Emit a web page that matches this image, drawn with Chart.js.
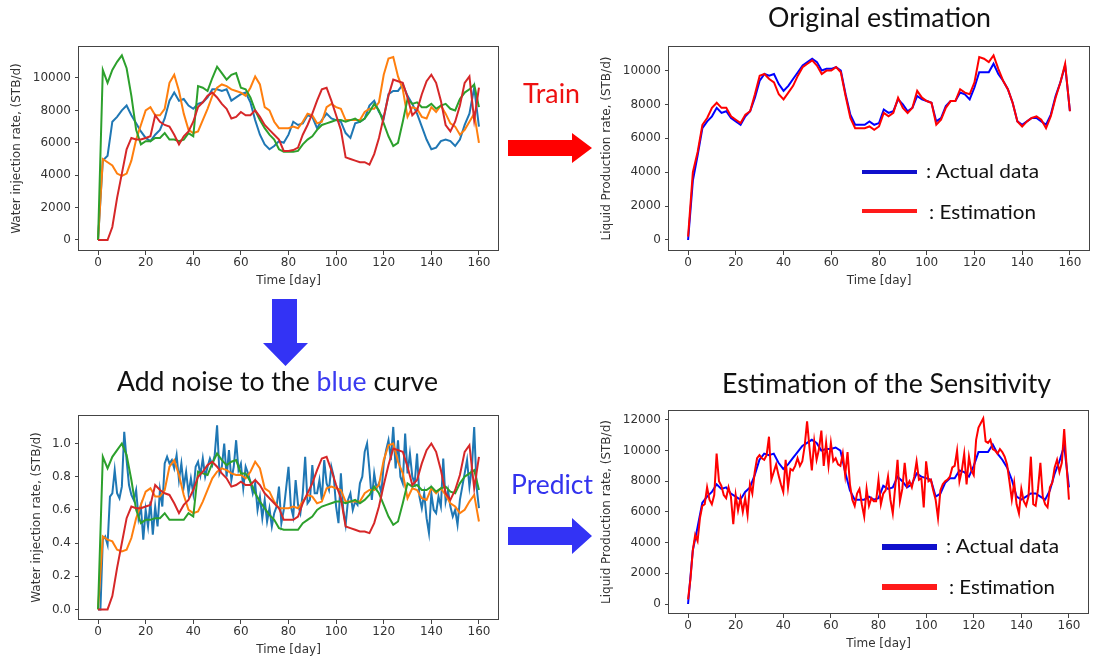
<!DOCTYPE html>
<html>
<head>
<meta charset="utf-8">
<script src="https://cdn.jsdelivr.net/npm/chart.js@4.4.1/dist/chart.umd.min.js"></script>
<style>
  html, body { margin: 0; padding: 0; background: #fff; width: 1094px; height: 662px; overflow: hidden; }
  canvas { position: absolute; }
  .lbl { position: absolute; white-space: nowrap; font-family: Lato, "Open Sans", sans-serif; line-height: 1; }
  .bar { position: absolute; }
  svg { position: absolute; left: 0; top: 0; }
</style>
</head>
<body>
<canvas id="cInjection" width="510" height="270" style="left:0px;top:30px"></canvas>
<canvas id="cTrain" width="504" height="270" style="left:590px;top:30px"></canvas>
<canvas id="cNoisy" width="510" height="270" style="left:0px;top:399px"></canvas>
<canvas id="cPredict" width="504" height="269" style="left:590px;top:394px"></canvas>

<svg width="1094" height="662">
  <polygon points="508,140 572,140 572,133 592,148 572,163 572,156 508,156" fill="#ff0000"/>
  <polygon points="272,299 297,299 297,343 308,343 285.5,366 263,343 272,343" fill="#3333f5"/>
  <polygon points="508,527 572,527 572,518 592,536 572,554 572,545 508,545" fill="#3333f5"/>
</svg>

<div class="bar" style="left:862px;top:169.5px;width:55px;height:4.5px;background:#1010cc"></div>
<div class="bar" style="left:862px;top:208.8px;width:55px;height:4.5px;background:#ff1a1a"></div>
<div class="bar" style="left:882px;top:544px;width:55px;height:5.5px;background:#1010cc"></div>
<div class="bar" style="left:882px;top:584px;width:55px;height:5.5px;background:#ff1a1a"></div>

<div class="lbl" id="tTrainTitle" style="color:#111">Original estimation</div>
<div class="lbl" id="tTrain" style="color:#ee1111">Train</div>
<div class="lbl" id="tNoise" style="color:#111">Add noise to the <span style="color:#3a3af0">blue</span> curve</div>
<div class="lbl" id="tSens" style="color:#111">Estimation of the Sensitivity</div>
<div class="lbl" id="tPredict" style="color:#3333ee">Predict</div>
<div class="lbl" id="lgA1" style="color:#111">: Actual data</div>
<div class="lbl" id="lgE1" style="color:#111">: Estimation</div>
<div class="lbl" id="lgA2" style="color:#111">: Actual data</div>
<div class="lbl" id="lgE2" style="color:#111">: Estimation</div>

<script>
// ---- x axis: simulation days ----
const daysEvery2 = Array.from({ length: 81 }, (_, i) => i * 2);   // 0, 2, ..., 160
const daysEvery1 = Array.from({ length: 161 }, (_, i) => i);      // 0, 1, ..., 160
const xTicks = [0, 20, 40, 60, 80, 100, 120, 140, 160];
const yTicksRate = [0, 2000, 4000, 6000, 8000, 10000];
const yTicksRate12 = [0, 2000, 4000, 6000, 8000, 10000, 12000];
const yTicksNorm = [0, 0.2, 0.4, 0.6, 0.8, 1.0];

// ---- water injection rates of the four injectors (STB/d), every 2 days ----
const injBlue = [
  0, 4900, 5200, 7300, 7600, 8000, 8300, 7700, 7200, 6700,
  6300, 6100, 6500, 6800, 7500, 8600, 9100, 8600, 8700, 8300,
  8100, 8400, 8500, 8800, 9300, 9300, 9200, 9300, 8600, 8800,
  9000, 9100, 8500, 7400, 6500, 5900, 5600, 5800, 6100, 6000,
  6500, 7300, 7100, 7200, 7700, 7600, 6900, 7400, 7800, 7500,
  7400, 7300, 6600, 6300, 7200, 7300, 7500, 8300, 8600, 7900,
  7500, 9000, 9200, 9200, 9600, 8900, 8400, 7800, 7000, 6200,
  5600, 5700, 6100, 6200, 6100, 5800, 6200, 7100, 7800, 9400,
  7000];
const injOrange = [
  0, 5000, 4800, 4600, 4100, 3950, 4100, 4900, 6200, 7100,
  8000, 8200, 7700, 7700, 8100, 9700, 10200, 9200, 7800, 6800,
  6600, 6700, 7400, 8100, 8900, 9400, 9600, 9500, 9300, 9200,
  9100, 8900, 9400, 10100, 9600, 8200, 8000, 7300, 6900, 6900,
  6900, 7000, 6900, 7300, 7800, 7700, 7200, 7300, 8200, 8400,
  8200, 8100, 7400, 7400, 7400, 7400, 7900, 8100, 8100, 8500,
  10200, 11200, 11300, 10100, 9300, 7600, 8200, 8100, 7600, 7500,
  8200, 7900, 8300, 7800, 7200, 7000, 6500, 6800, 7300, 7800,
  6000];
const injGreen = [
  0, 10500, 9700, 10500, 11000, 11400, 10600, 8900, 6800, 5900,
  6100, 6100, 6300, 6300, 6600, 6200, 6200, 6100, 6200, 6600,
  6400, 9500, 9400, 9200, 10000, 10700, 10300, 9900, 10200, 10300,
  9400, 9300, 8800, 8000, 7400, 6900, 6500, 6200, 5600, 5450,
  5450, 5450, 5500, 5900, 6200, 6400, 6800, 7100, 7200, 7300,
  7400, 7400, 7300, 7400, 7500, 7300, 7500, 7900, 8400, 8000,
  7200, 6400, 5800, 6000, 7300, 8700, 8400, 8500, 8200, 8200,
  8400, 8100, 8300, 8400, 8100, 8000, 8700, 9100, 9300, 9600,
  8200];
const injRed = [
  0, 0, 0, 800, 2600, 4100, 5600, 6300, 6200, 6200,
  6300, 6400, 7700, 7300, 7100, 7000, 6500, 5900, 6400, 6700,
  7300, 8200, 8500, 8900, 9100, 8800, 8400, 8100, 7500, 7600,
  7900, 7700, 7700, 8000, 7600, 7100, 6800, 6500, 6200, 5500,
  5500, 5550, 5700, 6500, 7100, 7800, 8600, 9300, 9400, 8600,
  7700, 6800, 5100, 5000, 4900, 4800, 4800, 4650, 5300, 6300,
  7600, 8900, 9900, 9800, 9700, 8800, 7700, 8000, 9000, 9800,
  10200, 9700, 8600, 7100, 6700, 7300, 8300, 9700, 10100, 7400,
  9400];

// ---- scaled injection rates, blue injector with added noise (daily) ----
const normBlueNoisy = [
  0, 0, 0.42, 0.44, 0.39, 0.68, 0.70, 0.84, 0.70, 0.67,
  0.74, 1.07, 0.90, 0.75, 0.69, 0.66, 0.72, 0.55, 0.62, 0.42,
  0.60, 0.50, 0.65, 0.45, 0.62, 0.50, 0.72, 0.62, 0.88, 0.92,
  0.88, 0.90, 0.85, 0.93, 0.78, 0.88, 0.74, 0.83, 0.70, 0.79,
  0.70, 0.86, 0.89, 0.81, 0.91, 0.80, 0.86, 0.91, 0.87, 0.93,
  1.11, 0.82, 0.86, 1.00, 0.80, 0.96, 0.78, 0.86, 1.02, 0.84,
  0.88, 0.73, 0.86, 0.82, 0.77, 0.70, 0.76, 0.60, 0.68, 0.55,
  0.66, 0.53, 0.61, 0.50, 0.58, 0.62, 0.74, 0.52, 0.60, 0.73,
  0.86, 0.62, 0.56, 0.78, 0.63, 0.58, 0.70, 0.92, 0.64, 0.66,
  0.87, 0.70, 0.70, 0.78, 0.66, 0.90, 0.76, 0.72, 0.86, 0.80,
  0.62, 0.52, 0.82, 0.60, 0.51, 0.66, 0.70, 0.60, 0.65, 0.63,
  0.76, 0.80, 0.95, 1.00, 0.84, 0.66, 0.82, 0.73, 0.76, 0.70,
  0.88, 0.96, 1.02, 0.90, 1.10, 0.85, 1.02, 0.80, 0.76, 1.06,
  0.82, 0.94, 0.80, 0.76, 0.94, 0.68, 0.61, 0.70, 0.55, 0.46,
  0.70, 0.60, 0.58, 0.68, 0.62, 0.91, 0.65, 0.72, 0.62, 0.56,
  0.60, 0.51, 0.66, 0.74, 0.82, 0.90, 0.74, 0.85, 1.10, 0.74,
  0.61];
// ---- scaled injection rates of the other injectors, every 2 days ----
const normOrange = [
  0, 0.44, 0.42, 0.41, 0.36, 0.35, 0.36, 0.43, 0.55, 0.63,
  0.71, 0.73, 0.68, 0.68, 0.72, 0.86, 0.90, 0.81, 0.69, 0.60,
  0.58, 0.59, 0.65, 0.72, 0.79, 0.83, 0.85, 0.84, 0.82, 0.81,
  0.81, 0.79, 0.83, 0.89, 0.85, 0.73, 0.71, 0.65, 0.61, 0.61,
  0.61, 0.62, 0.61, 0.65, 0.69, 0.68, 0.64, 0.65, 0.73, 0.74,
  0.73, 0.72, 0.65, 0.65, 0.65, 0.65, 0.70, 0.72, 0.72, 0.75,
  0.90, 0.99, 1.00, 0.89, 0.82, 0.67, 0.73, 0.72, 0.67, 0.66,
  0.73, 0.70, 0.73, 0.69, 0.64, 0.62, 0.58, 0.60, 0.65, 0.69,
  0.53];
const normGreen = [
  0, 0.92, 0.85, 0.92, 0.96, 1.00, 0.93, 0.78, 0.60, 0.52,
  0.54, 0.54, 0.55, 0.55, 0.58, 0.54, 0.54, 0.54, 0.54, 0.58,
  0.56, 0.83, 0.82, 0.81, 0.88, 0.94, 0.90, 0.87, 0.89, 0.90,
  0.82, 0.82, 0.77, 0.70, 0.65, 0.61, 0.57, 0.54, 0.49, 0.48,
  0.48, 0.48, 0.48, 0.52, 0.54, 0.56, 0.60, 0.62, 0.63, 0.64,
  0.65, 0.65, 0.64, 0.65, 0.66, 0.64, 0.66, 0.69, 0.74, 0.70,
  0.63, 0.56, 0.51, 0.53, 0.64, 0.76, 0.74, 0.75, 0.72, 0.72,
  0.74, 0.71, 0.73, 0.74, 0.71, 0.70, 0.76, 0.80, 0.82, 0.84,
  0.72];
const normRed = [
  0, 0, 0, 0.08, 0.25, 0.40, 0.55, 0.62, 0.61, 0.61,
  0.62, 0.63, 0.75, 0.72, 0.70, 0.69, 0.64, 0.58, 0.63, 0.66,
  0.72, 0.80, 0.83, 0.87, 0.89, 0.86, 0.82, 0.79, 0.74, 0.75,
  0.77, 0.75, 0.75, 0.78, 0.75, 0.70, 0.67, 0.64, 0.61, 0.54,
  0.54, 0.54, 0.56, 0.64, 0.70, 0.76, 0.84, 0.91, 0.92, 0.84,
  0.75, 0.67, 0.50, 0.49, 0.48, 0.47, 0.47, 0.46, 0.52, 0.62,
  0.75, 0.87, 0.97, 0.96, 0.95, 0.86, 0.75, 0.78, 0.88, 0.96,
  1.00, 0.95, 0.84, 0.70, 0.66, 0.72, 0.81, 0.95, 0.99, 0.73,
  0.92];

// ---- liquid production (STB/d) ----
const prodActual = [
  0, 3500, 5000, 6600, 7000, 7300, 7800, 7500, 7600, 7200,
  7000, 6800, 7300, 7600, 8400, 9400, 9800, 9700, 9800, 9200,
  8800, 9100, 9500, 9900, 10300, 10500, 10700, 10500, 10000, 10100,
  10100, 10200, 10000, 8600, 7400, 6800, 6800, 6800, 7000, 6800,
  6900, 7700, 7500, 7600, 8300, 8000, 7600, 7800, 8500, 8300,
  8200, 8100, 7000, 7200, 7900, 8200, 8200, 8700, 8600, 8300,
  9000, 9900, 9900, 9900, 10400, 9800, 9400, 8900, 8100, 7000,
  6800, 7000, 7200, 7200, 7000, 6800, 7400, 8500, 9300, 10300,
  7600];
const prodEstTrain = [
  200, 4000, 5200, 6800, 7200, 7800, 8100, 7800, 7800, 7300,
  7100, 6900, 7400, 7600, 8600, 9700, 9800, 9500, 9300, 8600,
  8300, 8700, 9100, 9700, 10200, 10400, 10600, 10300, 9800, 10000,
  10000, 10200, 9900, 8500, 7200, 6600, 6600, 6600, 6700, 6500,
  6700, 7500, 7300, 7500, 8400, 7800, 7500, 7800, 8800, 8400,
  8200, 8100, 6800, 7100, 7800, 8200, 8200, 8900, 8700, 8600,
  9300, 10800, 10700, 10500, 10900, 10100, 9400, 8900, 8100, 7000,
  6700, 7000, 7200, 7300, 7100, 6600, 7300, 8400, 9300, 10400,
  7600];
const prodEstNoisy = [
  300, 1600, 3500, 4500, 4100, 5600, 6400, 6500, 7600, 6800,
  6500, 7100, 9800, 8000, 7700, 7100, 6900, 7600, 7000, 5200,
  7100, 6100, 6900, 6000, 6900, 5800, 7800, 7200, 8600, 9500,
  9700, 9500, 9400, 9700, 10900, 8100, 8600, 9100, 8400, 7800,
  7300, 9400, 7600, 8800, 8700, 9000, 9500, 9000, 9300, 10300,
  11900, 10200, 8700, 10600, 9400, 10100, 11300, 9000, 10500, 9000,
  10500, 9300, 9500, 9100, 9000, 9800, 8400, 9900, 7800, 6800,
  6400, 7200, 7500, 6500, 5700, 7500, 6400, 6900, 6700, 6700,
  8100, 6500, 7200, 7400, 8300, 6800, 5900, 7600, 9400, 6700,
  7500, 9200, 7700, 8000, 7600, 8300, 9300, 8100, 8200, 6300,
  9300, 8000, 8100, 7400, 6800, 5600, 7400, 7800, 8000, 8100,
  8300, 8900, 9000, 10000, 8000, 8700, 9800, 7800, 9600, 8700,
  8400, 10700, 11500, 11800, 12100, 10600, 10500, 10700, 10100, 10000,
  9800, 10100, 9900, 9600, 9100, 8000, 6800, 7900, 6500, 5900,
  7500, 6700, 6400, 7000, 9600, 6500, 6400, 7500, 9200, 7000,
  6500, 6300, 7600, 7900, 8900, 9400, 8600, 9200, 11400, 9000,
  6800];

const TAB = { blue: '#1f77b4', orange: '#ff7f0e', green: '#2ca02c', red: '#d62728' };
const AXIS = '#444';
const TEXT = '#333';
const tickFont = { family: 'DejaVu Sans', size: 12 };

function series(xs, ys, color, order, width) {
  return {
    data: ys.map((y, i) => ({ x: xs[i], y })),
    borderColor: color, backgroundColor: color,
    borderWidth: width || 2, pointRadius: 0, tension: 0, fill: false, order
  };
}

// closed rectangle around the plotting area
const frame = {
  id: 'frame',
  afterDraw(chart) {
    const { ctx, chartArea: a } = chart;
    ctx.save();
    ctx.strokeStyle = AXIS;
    ctx.lineWidth = 1;
    ctx.strokeRect(Math.round(a.left) - 0.5, Math.round(a.top) + 0.5,
                   Math.round(a.right - a.left) + 1, Math.round(a.bottom - a.top) - 1);
    ctx.restore();
  }
};

function makeChart(id, datasets, o) {
  return new Chart(document.getElementById(id), {
    type: 'line',
    data: { datasets },
    options: {
      responsive: false, animation: false, events: [],
      layout: { padding: { left: 0, top: o.padTop, right: o.padRight, bottom: 0 } },
      plugins: { legend: { display: false }, tooltip: { enabled: false } },
      scales: {
        x: {
          type: 'linear', min: -8, max: 168,
          afterBuildTicks: s => { s.ticks = xTicks.map(v => ({ value: v })); },
          afterFit: s => { s.height = 49; },
          grid: { display: true, drawOnChartArea: false, drawTicks: true, tickLength: 4, color: AXIS },
          border: { display: false },
          ticks: { padding: 1, color: TEXT, font: tickFont, autoSkip: false, maxRotation: 0, callback: v => String(v) },
          title: { display: true, text: 'Time [day]', color: TEXT, font: tickFont, padding: { top: 0, bottom: 12 } }
        },
        y: {
          type: 'linear', min: o.yMin, max: o.yMax,
          afterBuildTicks: s => { s.ticks = o.yTicks.map(v => ({ value: v })); },
          afterFit: s => { s.width = 79; },
          grid: { display: true, drawOnChartArea: false, drawTicks: true, tickLength: 4, color: AXIS },
          border: { display: false },
          ticks: { padding: 4, color: TEXT, font: tickFont, autoSkip: false, callback: o.fmt },
          title: { display: true, text: o.yTitle, color: TEXT, font: tickFont, padding: { top: o.yTitlePad, bottom: 0 } }
        }
      }
    },
    plugins: [frame]
  });
}

const asInt = v => String(Math.round(v));

makeChart('cInjection', [
  series(daysEvery2, injBlue, TAB.blue, 4),
  series(daysEvery2, injOrange, TAB.orange, 3),
  series(daysEvery2, injGreen, TAB.green, 2),
  series(daysEvery2, injRed, TAB.red, 1)
], { padTop: 16, padRight: 12, yMin: -680, yMax: 11975, yTicks: yTicksRate, fmt: asInt,
     yTitle: 'Water injection rate, (STB/d)', yTitlePad: 9.5 });

makeChart('cTrain', [
  series(daysEvery2, prodActual, '#0000ff', 2),
  series(daysEvery2, prodEstTrain, '#ff0000', 1)
], { padTop: 16, padRight: 5, yMin: -650, yMax: 11450, yTicks: yTicksRate, fmt: asInt,
     yTitle: 'Liquid Production rate, (STB/d)', yTitlePad: 9.5 });

makeChart('cNoisy', [
  series(daysEvery1, normBlueNoisy, TAB.blue, 4),
  series(daysEvery2, normOrange, TAB.orange, 3),
  series(daysEvery2, normGreen, TAB.green, 2),
  series(daysEvery2, normRed, TAB.red, 1)
], { padTop: 16, padRight: 12, yMin: -0.064, yMax: 1.172, yTicks: yTicksNorm, fmt: v => v.toFixed(1),
     yTitle: 'Water injection rate, (STB/d)', yTitlePad: 29.5 });

makeChart('cPredict', [
  series(daysEvery2, prodActual, '#0000ff', 2),
  series(daysEvery1, prodEstNoisy, '#ff0000', 1)
], { padTop: 16, padRight: 6, yMin: -651, yMax: 12642, yTicks: yTicksRate12, fmt: asInt,
     yTitle: 'Liquid Production rate, (STB/d)', yTitlePad: 9.5 });

// ---- annotation text: left edge, baseline, width, font size ----
const labels = [
  ['tTrainTitle', 768, 26.7, 223, 26],
  ['tTrain', 523, 103.3, 57, 26],
  ['tNoise', 117, 391, 321, 26],
  ['tSens', 722, 393.3, 329, 26],
  ['tPredict', 511, 494.3, 82, 26],
  ['lgA1', 926, 177.5, 113, 19],
  ['lgE1', 929, 219, 107, 19],
  ['lgA2', 946, 552.7, 113, 20],
  ['lgE2', 949, 594.3, 106, 20]
];
function placeLabels() {
  for (const [id, left, base, width, size] of labels) {
    const el = document.getElementById(id);
    el.style.fontSize = size + 'px';
    el.style.transform = 'none';
    el.style.left = left + 'px';
    el.style.top = '0px';
    const mark = document.createElement('span');
    mark.style.cssText = 'display:inline-block;width:0;height:0;vertical-align:baseline';
    el.appendChild(mark);
    const r = el.getBoundingClientRect();
    const baseOff = mark.getBoundingClientRect().top - r.top;
    el.removeChild(mark);
    el.style.top = (base - baseOff) + 'px';
    el.style.transformOrigin = '0 0';
    el.style.transform = 'scaleX(' + (width / r.width) + ')';
  }
}
placeLabels();
if (document.fonts && document.fonts.ready) document.fonts.ready.then(placeLabels);
</script>
</body>
</html>
